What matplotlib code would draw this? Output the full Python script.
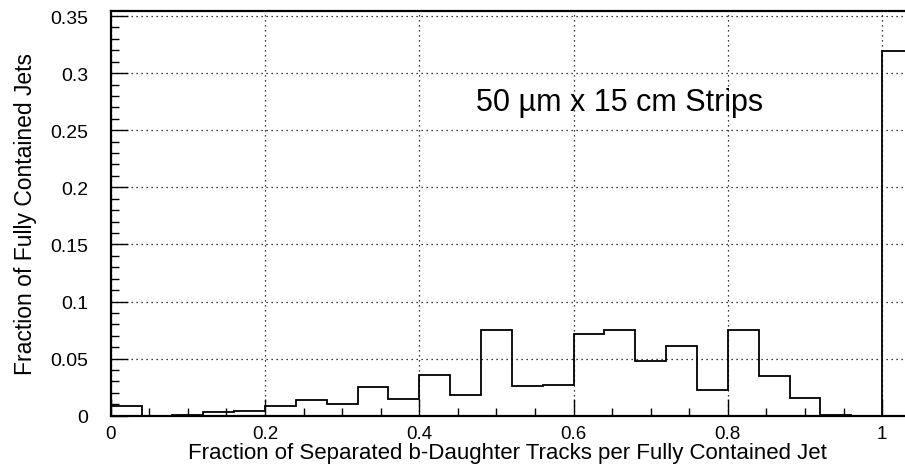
import numpy as np
import matplotlib
matplotlib.use('Agg')
import matplotlib.pyplot as plt
from matplotlib.ticker import MultipleLocator

plt.rcParams['font.family'] = ['Liberation Sans', 'DejaVu Sans']

# fraction of separated b-daughter tracks, 26 bins of width 0.04
bin_lo = 0.0
bin_hi = 1.04
n_bins = 26
fractions = [0.0082, 0.0, 0.001, 0.003, 0.004, 0.0088, 0.0137, 0.0105,
             0.0251, 0.0143, 0.0354, 0.0181, 0.0748, 0.0257, 0.0269, 0.0718,
             0.0748, 0.0479, 0.0608, 0.0225, 0.0753, 0.035, 0.0155, 0.0005,
             0.0, 0.319]

edges = np.linspace(bin_lo, bin_hi, n_bins + 1)

fig = plt.figure(figsize=(9.05, 4.77), dpi=100)
ax = fig.add_axes([0.1223, 0.1264, 0.8777, 0.8491])

ax.stairs(fractions, edges, baseline=0, color='black', linewidth=1.3)

ax.set_xlim(0, 1.0296)
ax.set_ylim(0, 0.3547)

ax.xaxis.set_major_locator(MultipleLocator(0.2))
ax.xaxis.set_minor_locator(MultipleLocator(0.05))
ax.yaxis.set_major_locator(MultipleLocator(0.05))
ax.yaxis.set_minor_locator(MultipleLocator(0.01))
ax.xaxis.set_major_formatter(lambda v, p: f'{v:g}')
ax.yaxis.set_major_formatter(lambda v, p: f'{v:g}')

ax.tick_params(which='both', direction='in', top=False, right=False,
               width=1.0)
ax.tick_params(which='major', length=12)
ax.tick_params(which='minor', length=6)
ax.tick_params(axis='x', pad=7, labelsize=13.5)
ax.tick_params(axis='y', pad=16, labelsize=14)

ax.grid(True, which='major', color='black', linestyle=(0, (1, 3)), linewidth=0.9)
for side in ['left', 'bottom', 'top']:
    ax.spines[side].set_linewidth(1.6)
ax.spines['right'].set_visible(False)

ax.set_xlabel('Fraction of Separated b-Daughter Tracks per Fully Contained Jet',
              fontsize=16, labelpad=0)
ax.set_ylabel('Fraction of Fully Contained Jets', fontsize=16.5, labelpad=10)

ax.text(0.66, 0.275, '50 \u00b5m x 15 cm Strips', fontsize=22,
        ha='center', va='center')

fig.savefig('out.png', dpi=100)
